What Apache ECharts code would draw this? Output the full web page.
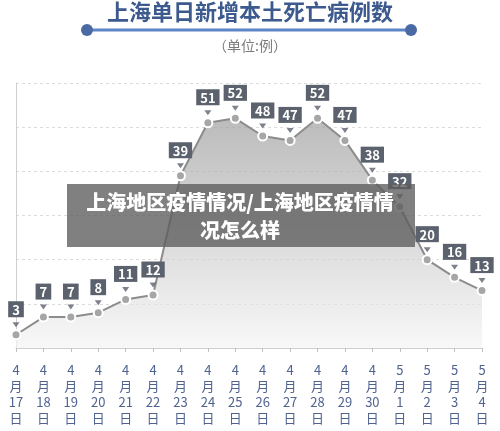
<!DOCTYPE html>
<html lang="zh">
<head>
<meta charset="UTF-8">
<title>上海单日新增本土死亡病例数</title>
<script src="https://cdn.jsdelivr.net/npm/echarts@6/dist/echarts.min.js"></script>
<style>
    html, body { margin: 0; padding: 0; background: #fff; }
    #chart { width: 500px; height: 431px; }
</style>
</head>
<body>
<div id="chart"></div>
<script>
    // 日期
    var days = ['4月17日', '4月18日', '4月19日', '4月20日', '4月21日', '4月22日',
        '4月23日', '4月24日', '4月25日', '4月26日', '4月27日', '4月28日',
        '4月29日', '4月30日', '5月1日', '5月2日', '5月3日', '5月4日'];
    // 死亡病例数
    var deaths = [3, 7, 7, 8, 11, 12, 39, 51, 52, 48, 47, 52, 47, 38, 32, 20, 16, 13];

    var font = '"Noto Sans CJK SC", "Noto Sans", sans-serif';
    var chart = echarts.init(document.getElementById('chart'));

    var option = {
        animation: false,
        textStyle: { fontFamily: font },
        grid: {
            left: 16,
            right: 18,
            top: 83,
            bottom: 83
        },
        xAxis: {
            type: 'category',
            boundaryGap: false,
            data: days,
            axisLine: { lineStyle: { color: '#cfcfcf', width: 1 } },
            axisTick: { show: true, length: 4, lineStyle: { color: '#bfbfbf' } },
            axisLabel: {
                interval: 0,
                margin: 14,
                color: '#506390',
                fontSize: 13,
                lineHeight: 16,
                fontFamily: font,
                formatter: function (v) {
                    var m = v.split('月');
                    return m[0] + '\n月\n' + m[1].replace('日', '') + '\n日';
                }
            }
        },
        yAxis: {
            type: 'value',
            min: 0,
            max: 60,
            interval: 10,
            axisLine: { show: true, lineStyle: { color: '#cfcfcf', width: 1 } },
            axisTick: { show: false },
            axisLabel: { show: false },
            splitLine: { lineStyle: { color: '#dcdcdc', type: [3, 3] } }
        },
        series: [{
            type: 'line',
            data: deaths,
            z: 3,
            symbol: 'circle',
            symbolSize: 9,
            lineStyle: { color: '#8c8c8c', width: 2 },
            itemStyle: { color: '#a6a6a6', borderColor: '#ffffff', borderWidth: 2 },
            areaStyle: {
                color: new echarts.graphic.LinearGradient(0, 0, 0, 1, [
                    { offset: 0, color: '#9e9e9e' },
                    { offset: 1, color: '#f4f4f4' }
                ])
            },
            label: {
                show: true,
                position: 'top',
                distance: 12,
                color: '#ffffff',
                fontWeight: 'bold',
                fontSize: 13,
                fontFamily: font,
                backgroundColor: '#5b626d',
                padding: [2, 4, 1, 4]
            }
        }, {
            // 标签下方的小三角
            type: 'scatter',
            data: deaths,
            z: 4,
            symbol: 'triangle',
            symbolRotate: 180,
            symbolSize: [7, 5],
            symbolOffset: [0, -10],
            itemStyle: { color: '#5b626d' },
            silent: true
        }],
        graphic: [
            {
                type: 'text', left: 'center', top: 1,
                style: {
                    text: '上海单日新增本土死亡病例数',
                    fill: '#3c5a8e', font: 'bold 22px ' + font
                }
            },
            {
                type: 'line',
                shape: { x1: 87, y1: 30, x2: 411, y2: 30 },
                style: { stroke: '#5d84c6', lineWidth: 3 }
            },
            { type: 'circle', shape: { cx: 87, cy: 30, r: 6 }, style: { fill: '#4a6aa4' } },
            { type: 'circle', shape: { cx: 411, cy: 30, r: 6 }, style: { fill: '#4a6aa4' } },
            {
                type: 'text', left: 'center', top: 39,
                style: {
                    text: '（单位:例）',
                    fill: '#7a7a7a', font: '14px ' + font
                }
            },
            // 水印
            {
                type: 'rect', z: 100,
                shape: { x: 67, y: 184, width: 348, height: 63 },
                style: { fill: 'rgba(92,92,92,0.78)' }
            },
            {
                type: 'text', z: 101, x: 240, y: 216,
                style: {
                    text: '上海地区疫情情况/上海地区疫情情\n况怎么样',
                    fill: '#ffffff', font: '900 20px ' + font,
                    align: 'center', verticalAlign: 'middle', lineHeight: 28
                }
            }
        ]
    };

    chart.setOption(option);
</script>
</body>
</html>
